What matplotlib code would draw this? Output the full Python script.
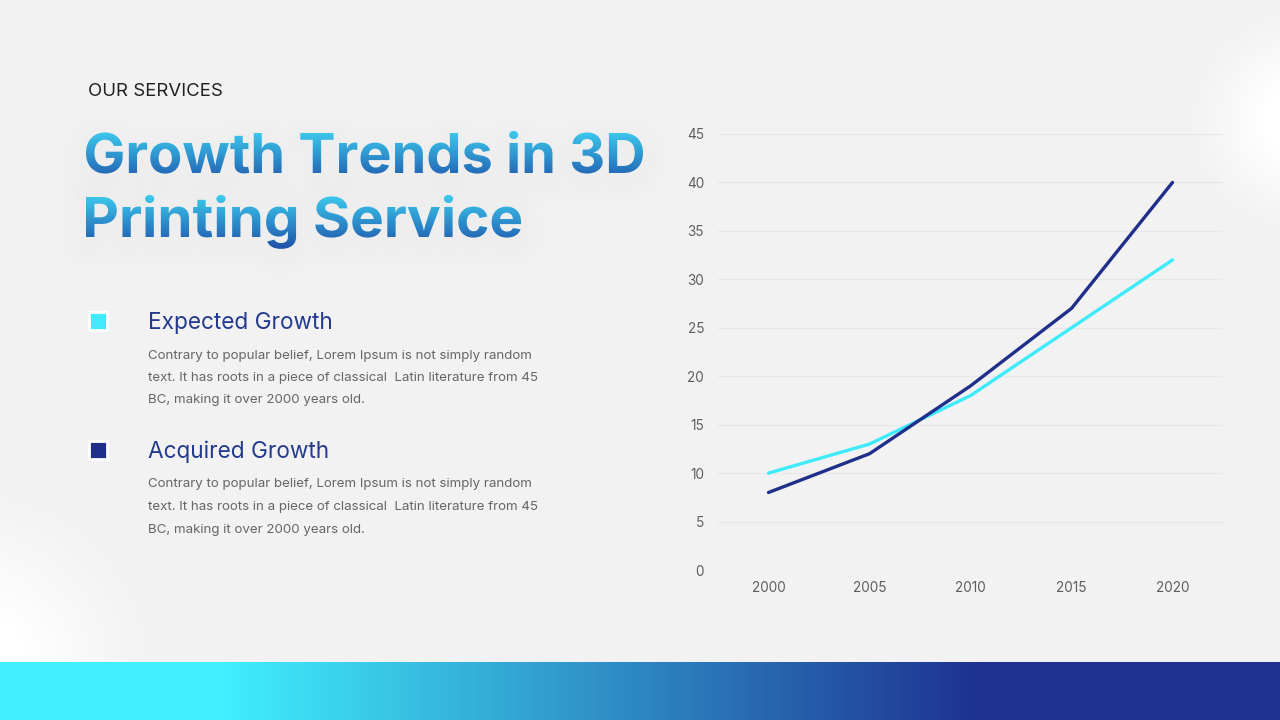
import numpy as np
import matplotlib.pyplot as plt
from matplotlib.colors import to_rgb
from matplotlib.textpath import TextPath
from matplotlib.font_manager import FontProperties
from matplotlib.patches import PathPatch, Rectangle
from matplotlib.transforms import Affine2D

# data
years = ["2000", "2005", "2010", "2015", "2020"]
expected = [10, 13, 18, 25, 32]
acquired = [8, 12, 19, 27, 40]

CYAN = "#3FEBFB"
NAVY = "#1F2F8A"
BG = "#F2F2F2"

body = ["Contrary to popular belief, Lorem Ipsum is not simply random",
        "text. It has roots in a piece of classical  Latin literature from 45",
        "BC, making it over 2000 years old."]

fig = plt.figure(figsize=(12.8, 7.2), dpi=100)
fig.patch.set_facecolor(BG)

# background layer in pixel coordinates
bg = fig.add_axes([0, 0, 1, 1])
bg.set_xlim(0, 1280)
bg.set_ylim(720, 0)
bg.axis("off")

# soft white glows
yy, xx = np.mgrid[0:720, 0:1280]
glow = np.zeros((720, 1280, 4))
glow[..., :3] = 1.0
d1 = np.hypot(xx - 1300, yy - 120) / 115
d2 = np.hypot(xx + 30, yy - 670) / 190
a1 = np.clip(np.maximum(1 - d1, 0) ** 1.2 * 1.6, 0, 1)
a2 = np.clip(np.maximum(1 - d2, 0) ** 1.2 * 1.6, 0, 1)
glow[..., 3] = np.maximum(a1, a2)
bg.imshow(glow, extent=(0, 1280, 720, 0), zorder=0)

# bottom gradient bar
c1, c2 = np.array(to_rgb("#40F0FF")), np.array(to_rgb("#1E3190"))
t = np.clip((np.arange(1280) - 220) / (980 - 220), 0, 1)
bar = c1[None, :] * (1 - t[:, None]) + c2[None, :] * t[:, None]
bg.imshow(bar[None, :, :], extent=(0, 1280, 720, 662), aspect="auto", zorder=1)

bg.text(88, 92, "OUR SERVICES", fontsize=13.4, color="#222222",
        family="Inter", va="center", ha="left")

# gradient title with soft shadow
fp = FontProperties(family="Inter", weight="bold")
top_c, bot_c = np.array(to_rgb("#3CCBEE")), np.array(to_rgb("#1E4FA8"))
for line, base, width in [("Growth Trends in 3D", 173, 557), ("Printing Service", 237, 435)]:
    tp = TextPath((0, 0), line, size=55, prop=fp)
    ext = tp.get_extents()
    sx = width / ext.width
    tr = Affine2D().translate(-ext.x0, 0).scale(sx, -1).translate(86, base)
    path = tr.transform_path(tp)
    shadow = Affine2D().translate(0, 6).transform_path(path)
    for lw in [40, 28, 18, 10]:
        bg.add_patch(PathPatch(shadow, facecolor="none", edgecolor="#C8C9CC",
                               lw=lw, alpha=0.022, joinstyle="round", zorder=2))
    patch = PathPatch(path, facecolor="none", edgecolor="none", transform=bg.transData)
    bg.add_patch(patch)
    g = np.linspace(0, 1, 100)[:, None, None]
    img = top_c * (1 - g) + bot_c * g
    im = bg.imshow(img, extent=(80, 700, base + 13, base - 42), aspect="auto", zorder=3)
    im.set_clip_path(patch)

# legend blocks
for col, yc, head in [(CYAN, 321, "Expected Growth"), (NAVY, 450, "Acquired Growth")]:
    bg.add_patch(Rectangle((89, yc - 9), 18, 18, facecolor=col, edgecolor="white",
                           linewidth=2, zorder=3))
    bg.text(148, yc + 1.5, head, fontsize=16.3, color="#243A8F", family="Inter",
            va="center", ha="left")
    for i, ln in enumerate(body):
        bg.text(148, yc + 34.5 + i * 22.5, ln, fontsize=9.6, color="#666666",
                family="Inter", va="center", ha="left")

# chart
ax = fig.add_axes([718 / 1280, 1 - 570 / 720, (1223 - 718) / 1280, (570 - 134) / 720])
ax.set_facecolor("none")
x = np.arange(len(years))
ax.plot(x, expected, color=CYAN, lw=2.4, solid_capstyle="round", zorder=3)
ax.plot(x, acquired, color=NAVY, lw=2.4, solid_capstyle="round", zorder=4)
ax.set_xlim(-0.5, len(years) - 0.5)
ax.set_ylim(0, 45)
ax.set_yticks(range(0, 46, 5))
ax.set_xticks(x)
ax.set_xticklabels(years)
ax.grid(axis="y", color="#E7E9E9", lw=0.9)
ax.set_axisbelow(True)
for s in ax.spines.values():
    s.set_visible(False)
ax.tick_params(length=0, colors="#5E5E5E", labelsize=9.8, pad=10)
ax.tick_params(axis="x", pad=8)
for lab in ax.get_xticklabels() + ax.get_yticklabels():
    lab.set_family("Inter")

fig.savefig("out.png", dpi=100, facecolor=BG)
